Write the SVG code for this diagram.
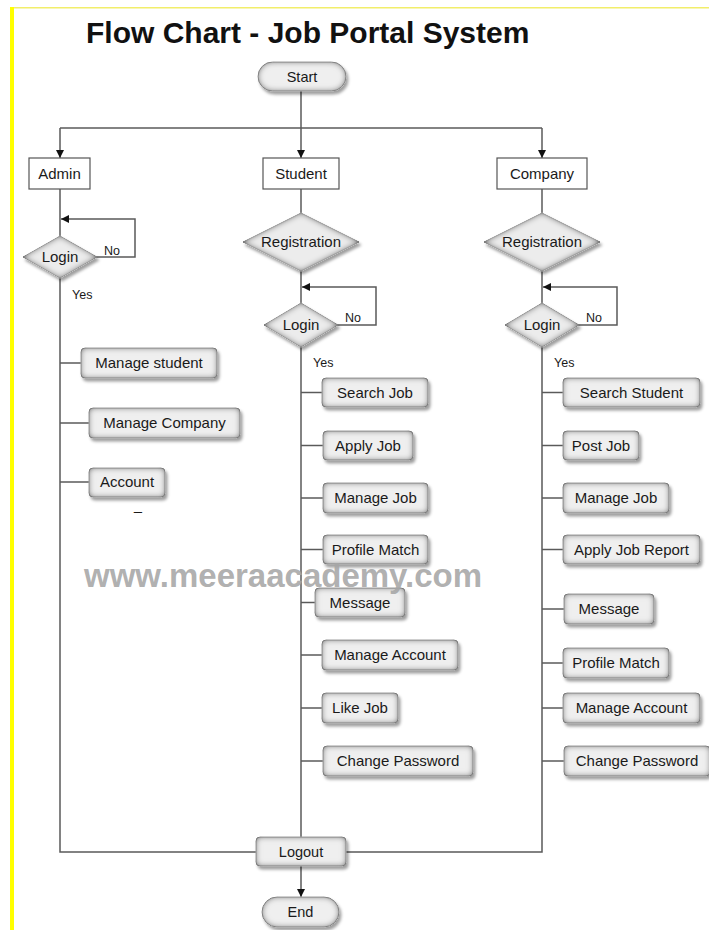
<svg xmlns="http://www.w3.org/2000/svg" width="709" height="930" viewBox="0 0 709 930">
<style>
  .lbl{font-family:"Liberation Sans",Arial,sans-serif;font-size:15px;fill:#1a1a1a;text-anchor:middle}
  .term{font-family:"Liberation Sans",Arial,sans-serif;font-size:14.5px;fill:#1a1a1a;text-anchor:middle}
  .small{font-family:"Liberation Sans",Arial,sans-serif;font-size:12.5px;fill:#1a1a1a}
  .proc{fill:#efefef;stroke:#a0a0a0;stroke-width:1;filter:url(#bevel)}
  .dia{fill:#ececec;stroke:#bdbdbd;stroke-width:1;filter:url(#bevel)}
  .actor{fill:#ffffff;stroke:#555555;stroke-width:1.2}
  .ln{fill:none;stroke:#5a5a5a;stroke-width:1.5}
  .arw{marker-end:url(#arr)}
</style>
<defs>
  <marker id="arr" viewBox="0 0 10 10" refX="10" refY="5" markerWidth="8" markerHeight="8" markerUnits="userSpaceOnUse" orient="auto">
    <path d="M0,0 L10,5 L0,10 z" fill="#111"/>
  </marker>
  <filter id="bevel" x="-15%" y="-30%" width="135%" height="170%">
    <feGaussianBlur in="SourceAlpha" stdDeviation="3.2" result="blur"/>
    <feComposite in="SourceAlpha" in2="blur" operator="arithmetic" k2="1.3" k3="-1.3" result="innerEdge"/>
    <feFlood flood-color="#6a6a6a" result="c"/>
    <feComposite in="c" in2="innerEdge" operator="in" result="inner"/>
    <feOffset in="SourceAlpha" dx="2" dy="2.5" result="off"/>
    <feGaussianBlur in="off" stdDeviation="1.6" result="offb"/>
    <feFlood flood-color="#000" flood-opacity="0.38"/>
    <feComposite in2="offb" operator="in" result="shadow"/>
    <feMerge><feMergeNode in="shadow"/><feMergeNode in="SourceGraphic"/><feMergeNode in="inner"/></feMerge>
  </filter>
</defs>
<rect x="0" y="0" width="709" height="930" fill="#ffffff"/>
<rect x="10" y="7" width="699" height="1.5" fill="#f2ee6a"/>
<rect x="10" y="7" width="4" height="923" fill="#ffff00"/>

<text x="86" y="43" font-family="'Liberation Sans',Arial,sans-serif" font-size="30" font-weight="bold" fill="#111">Flow Chart - Job Portal System</text>

<g id="connectors">
  <path class="ln" d="M301,91 V128"/>
  <path class="ln" d="M60,128 H542"/>
  <path class="ln arw" d="M60,128 V158"/>
  <path class="ln arw" d="M301,128 V158"/>
  <path class="ln arw" d="M542,128 V158"/>
  <path class="ln" d="M60,189 V236"/>
  <path class="ln arw" d="M97,257 H135 V219 H61"/>
  <path class="ln" d="M60,278 V852 H256"/>
  <path class="ln" d="M60,363 H81"/>
  <path class="ln" d="M60,423 H89"/>
  <path class="ln" d="M60,482 H89"/>
  <path class="ln" d="M301,189 V213"/>
  <path class="ln" d="M301,271 V303"/>
  <path class="ln arw" d="M338,325 H376 V287 H302"/>
  <path class="ln" d="M301,347 V837"/>
  <path class="ln" d="M301,392.5 H322"/>
  <path class="ln" d="M301,445.5 H323"/>
  <path class="ln" d="M301,498 H323"/>
  <path class="ln" d="M301,549.5 H323"/>
  <path class="ln" d="M301,602.5 H315"/>
  <path class="ln" d="M301,655 H322"/>
  <path class="ln" d="M301,708 H322"/>
  <path class="ln" d="M301,761 H323"/>
  <path class="ln" d="M542,189 V213"/>
  <path class="ln" d="M542,271 V303"/>
  <path class="ln arw" d="M579,325 H617 V287 H543"/>
  <path class="ln" d="M542,347 V852 H346"/>
  <path class="ln" d="M542,392.5 H563"/>
  <path class="ln" d="M542,445.5 H563"/>
  <path class="ln" d="M542,498 H563"/>
  <path class="ln" d="M542,549.5 H563"/>
  <path class="ln" d="M542,609 H564"/>
  <path class="ln" d="M542,663 H563"/>
  <path class="ln" d="M542,708 H563"/>
  <path class="ln" d="M542,761 H564"/>
  <path class="ln arw" d="M301,866 V897"/>
</g>

<g id="start"><rect class="proc" x="258" y="62" width="88" height="29" rx="14.5"/><text class="term" x="302" y="82">Start</text></g>

<g id="admin"><rect class="actor" x="29" y="158" width="61" height="31"/><text class="lbl" x="59.5" y="179">Admin</text></g>
<g id="student"><rect class="actor" x="263" y="158" width="76" height="31"/><text class="lbl" x="301" y="179">Student</text></g>
<g id="company"><rect class="actor" x="497" y="158" width="90" height="31"/><text class="lbl" x="542" y="179">Company</text></g>

<g id="admin-login"><polygon class="dia" points="60,236 97,257 60,278 23,257"/><text class="lbl" x="60" y="262">Login</text></g>
<g id="admin-labels"><text class="small" x="104" y="255">No</text><text class="small" x="72" y="299">Yes</text></g>

<g id="student-registration"><polygon class="dia" points="301,213 359,242 301,271 243,242"/><text class="lbl" x="301" y="247">Registration</text></g>
<g id="student-login"><polygon class="dia" points="301,303 338,325 301,347 264,325"/><text class="lbl" x="301" y="330">Login</text></g>
<g id="student-labels"><text class="small" x="345" y="322">No</text><text class="small" x="313" y="367">Yes</text></g>

<g id="company-registration"><polygon class="dia" points="542,213 600,242 542,271 484,242"/><text class="lbl" x="542" y="247">Registration</text></g>
<g id="company-login"><polygon class="dia" points="542,303 579,325 542,347 505,325"/><text class="lbl" x="542" y="330">Login</text></g>
<g id="company-labels"><text class="small" x="586" y="322">No</text><text class="small" x="554" y="367">Yes</text></g>

<g id="manage-student"><rect class="proc" x="81" y="348" width="136" height="30" rx="4"/><text class="lbl" x="149" y="368">Manage student</text></g>
<g id="manage-company"><rect class="proc" x="89" y="408" width="151" height="30" rx="4"/><text class="lbl" x="164.5" y="428">Manage Company</text></g>
<g id="account"><rect class="proc" x="89" y="468" width="76" height="29" rx="4"/><text class="lbl" x="127" y="487">Account</text></g>
<g id="dash"><text class="lbl" x="138" y="516">–</text></g>

<g id="s-search-job"><rect class="proc" x="322" y="378" width="106" height="29" rx="4"/><text class="lbl" x="375" y="397.5">Search Job</text></g>
<g id="s-apply-job"><rect class="proc" x="323" y="431" width="90" height="29" rx="4"/><text class="lbl" x="368" y="450.5">Apply Job</text></g>
<g id="s-manage-job"><rect class="proc" x="323" y="483" width="105" height="30" rx="4"/><text class="lbl" x="375.5" y="503">Manage Job</text></g>
<g id="s-profile-match"><rect class="proc" x="323" y="535" width="105" height="29" rx="4"/><text class="lbl" x="375.5" y="554.5">Profile Match</text></g>
<g id="s-message"><rect class="proc" x="315" y="588" width="90" height="29" rx="4"/><text class="lbl" x="360" y="607.5">Message</text></g>
<g id="s-manage-account"><rect class="proc" x="322" y="640" width="136" height="30" rx="4"/><text class="lbl" x="390" y="660">Manage Account</text></g>
<g id="s-like-job"><rect class="proc" x="322" y="693" width="76" height="30" rx="4"/><text class="lbl" x="360" y="713">Like Job</text></g>
<g id="s-change-password"><rect class="proc" x="323" y="746" width="150" height="30" rx="4"/><text class="lbl" x="398" y="766">Change Password</text></g>

<g id="c-search-student"><rect class="proc" x="563" y="378" width="137" height="29" rx="4"/><text class="lbl" x="631.5" y="397.5">Search Student</text></g>
<g id="c-post-job"><rect class="proc" x="563" y="431" width="76" height="29" rx="4"/><text class="lbl" x="601" y="450.5">Post Job</text></g>
<g id="c-manage-job"><rect class="proc" x="563" y="483" width="106" height="30" rx="4"/><text class="lbl" x="616" y="503">Manage Job</text></g>
<g id="c-apply-job-report"><rect class="proc" x="563" y="535" width="137" height="29" rx="4"/><text class="lbl" x="631.5" y="554.5">Apply Job Report</text></g>
<g id="c-message"><rect class="proc" x="564" y="594" width="90" height="30" rx="4"/><text class="lbl" x="609" y="614">Message</text></g>
<g id="c-profile-match"><rect class="proc" x="563" y="648" width="106" height="30" rx="4"/><text class="lbl" x="616" y="668">Profile Match</text></g>
<g id="c-manage-account"><rect class="proc" x="563" y="693" width="137" height="30" rx="4"/><text class="lbl" x="631.5" y="713">Manage Account</text></g>
<g id="c-change-password"><rect class="proc" x="564" y="746" width="146" height="30" rx="4"/><text class="lbl" x="637" y="766">Change Password</text></g>

<g id="logout"><rect class="proc" x="256" y="837" width="90" height="29" rx="4"/><text class="term" x="301" y="856.5">Logout</text></g>
<g id="end"><rect class="proc" x="262" y="897" width="77" height="30" rx="15"/><text class="term" x="300.5" y="917">End</text></g>

<text x="84" y="587" font-family="'Liberation Sans',Arial,sans-serif" font-size="33" font-weight="bold" fill="#a6a6a6" fill-opacity="0.9">www.meeraacademy.com</text>
</svg>
